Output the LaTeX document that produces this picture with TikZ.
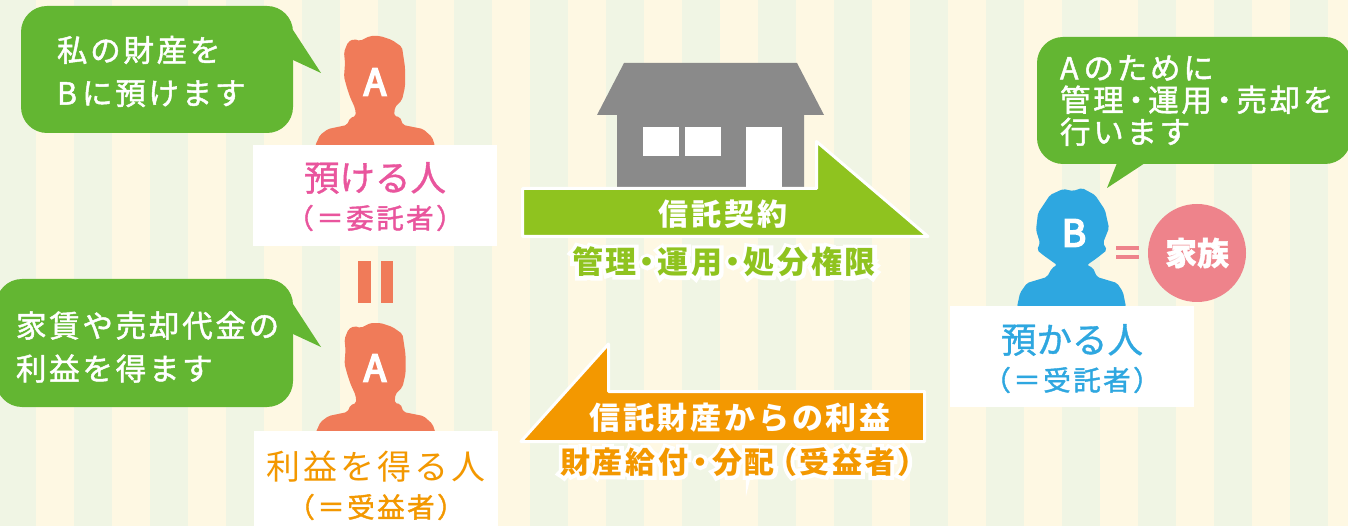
\documentclass[tikz,border=0pt]{standalone}
\usepackage{fontspec}
\usepackage{xcolor}
\usetikzlibrary{positioning}
\newfontfamily\jp[LetterSpace=9]{Noto Sans CJK JP}
\newfontfamily\jpmid[LetterSpace=9,FakeBold=1.5]{Noto Sans CJK JP}
\newfontfamily\jpplain[FakeBold=1]{Noto Sans CJK JP}
\newfontfamily\jpletter[FakeBold=5]{Noto Sans CJK JP}
\newfontfamily\jpglow[LetterSpace=9,BoldFeatures={FakeBold=25}]{Noto Sans CJK JP}
\definecolor{stripegreen}{HTML}{F0F5E4}
\definecolor{stripecream}{HTML}{FEF8E3}
\definecolor{talkgreen}{HTML}{63B632}
\definecolor{mancolor}{HTML}{F07B59}
\definecolor{givercolor}{HTML}{E9559D}
\definecolor{benefitcolor}{HTML}{F39800}
\definecolor{trusteecolor}{HTML}{2EA7E0}
\definecolor{housegray}{HTML}{8A8A8A}
\definecolor{contractgreen}{HTML}{8FC31F}
\definecolor{familyred}{HTML}{EE838B}
\newcommand{\glow}[1]{\rlap{\textcolor{white}{\jpglow\bfseries #1}}#1}
\newcommand{\dotsep}{\kern-5pt・\kern-5pt}
\newcommand{\talkdot}{\kern-3pt・\kern-3pt}
\begin{document}
\begin{tikzpicture}
            [x=1pt, y=-1pt,
            every node/.style={inner sep=0pt, outer sep=0pt},
            talk/.style={fill=talkgreen, rounded corners=26pt},
            talktext/.style={text=white, align=left, font=\jpmid\fontsize{30.5}{43}\selectfont},
            namebox/.style={fill=white, minimum width=244pt},
            bigname/.style={font=\jpplain\fontsize{35.5}{35.5}\selectfont},
            rolename/.style={font=\jpmid\fontsize{27.5}{27.5}\selectfont},
            letter/.style={text=white, font=\jpletter\fontsize{37}{37}\selectfont},
            man/.pic={
                \fill[mancolor, rounded corners=2pt] (315,146) -- (320,135) -- (328,129) -- (347,125) -- (350,118) -- (356,116) -- (355,108) -- (350,97) -- (347,88) -- (344,77) -- (345,63) -- (344,52) -- (348,42) -- (354,39) -- (360,41) -- (370,36) -- (380,36) -- (392,40) -- (402,47) -- (405,67) -- (405,87) -- (402,100) -- (395,107) -- (394,116) -- (400,117) -- (403,125) -- (423,129) -- (432,137) -- (435,146) -- cycle;
            }]

            \clip (0,0) rectangle (1348,526);
            \fill[stripecream] (0,0) rectangle (1348,526);
            \foreach \k in {0,...,17}
                \fill[stripegreen] ({76*\k-2},0) rectangle ++(38,526);

            \node[talk, minimum width=272pt, minimum height=127pt] (talkGiver) at (157,69.5) {};
            \fill[talkgreen] (293,30) -- (321,73) -- (293,60) -- cycle;
            \node[talktext, anchor=west, right=36pt of talkGiver.west, yshift=-2pt] {私の財産を\\B\kern5pt に預けます};

            \node[talk, minimum width=297pt, minimum height=128pt] (talkBenefit) at (144.5,343) {};
            \fill[talkgreen] (293,304) -- (321,347) -- (293,334) -- cycle;
            \node[talktext, anchor=west, right=20pt of talkBenefit.west, yshift=-4pt] {家賃や売却代金の\\利益を得ます};

            \node[talk, minimum width=314pt, minimum height=127pt] (talkTrustee) at (1194,100.5) {};
            \fill[talkgreen] (1117,163) -- (1107,188) -- (1145,163) -- cycle;
            \node[talktext, anchor=west, right=23pt of talkTrustee.west, font=\jpmid\fontsize{30.5}{32}\selectfont] {A\kern5pt のために\\管理\talkdot 運用\talkdot 売却を\\行います};

            \pic at (0,0) {man};
            \node[letter] (letterGiver) at (375,82) {A};
            \pic at (0.5,287) {man};
            \node[letter] (letterBenefit) at (375,368) {A};

            \fill[trusteecolor, rounded corners=2pt] (1017,307) -- (1020,293) -- (1027,283) -- (1047,277) -- (1052,268) -- (1057,265) -- (1043,255) -- (1037,250) -- (1040,243) -- (1036,230) -- (1038,213) -- (1050,195) -- (1063,189) -- (1073,191) -- (1082,188) -- (1095,195) -- (1105,210) -- (1109,228) -- (1103,243) -- (1107,250) -- (1097,258) -- (1087,265) -- (1093,268) -- (1097,277) -- (1117,283) -- (1123,292) -- (1126,307) -- cycle;
            \node[letter] (letterTrustee) at (1074,233) {B};

            \node[namebox, minimum height=101pt] (boxGiver) at (375,195.5) {};
            \node[bigname, text=givercolor] (nameGiver) at (375,178) {預ける人};
            \node[rolename, text=givercolor] (roleGiver) at (375,218) {（＝委託者）};

            \node[namebox, minimum height=96pt] (boxBenefit) at (376,479) {};
            \node[bigname, text=benefitcolor, font=\jp\fontsize{34}{34}\selectfont] (nameBenefit) at (376,467) {利益を得る人};
            \node[rolename, text=benefitcolor] (roleBenefit) at (376,507) {（＝受益者）};

            \node[namebox, minimum height=101pt] (boxTrustee) at (1072,356.5) {};
            \node[bigname, text=trusteecolor] (nameTrustee) at (1072,340) {預かる人};
            \node[rolename, text=trusteecolor] (roleTrustee) at (1072,380) {（＝受託者）};

            \fill[mancolor] (358,261) rectangle (371,303);
            \fill[mancolor] (381,261) rectangle (393,303);

            \fill[familyred] (1116,246) rectangle (1139,250);
            \fill[familyred] (1116,255) rectangle (1139,259);
            \node[circle, fill=familyred, minimum size=98pt, text=white, font=\jpplain\bfseries\fontsize{32}{32}\selectfont] (family) at (1197,253) {家族};

            \fill[housegray] (624,63) -- (797,63) -- (824,115) -- (804,115) -- (804,192) -- (617,192) -- (617,115) -- (597,115) -- cycle;
            \fill[white] (643,127) rectangle (679,156);
            \fill[white] (685,127) rectangle (721,156);
            \fill[white] (746,127) rectangle (782,192);

            \draw[white, line width=3pt, line join=round, fill=contractgreen] (522.5,188.5) -- (816.5,188.5) -- (816.5,141.5) -- (928,236.5) -- (522.5,236.5) -- cycle;
            \node[text=white, font=\jp\bfseries\fontsize{30}{30}\selectfont] (contract) at (723,214) {信託契約};
            \node[text=contractgreen, font=\jp\bfseries\fontsize{31}{31}\selectfont] (powers) at (724,262) {\glow{管理\dotsep 運用\dotsep 処分権限}};

            \draw[white, line width=3pt, line join=round, fill=benefitcolor] (608.5,344) -- (608.5,391.5) -- (924.5,391.5) -- (924.5,441.5) -- (521,441.5) -- cycle;
            \node[text=white, font=\jp\bfseries\fontsize{31}{31}\selectfont] (income) at (740,418) {信託財産からの利益};
            \node[text=benefitcolor, font=\jp\bfseries\fontsize{30}{30}\selectfont] (payout) at (740,462) {\glow{財産給付\kern-3pt・\kern-3pt分配\kern-8pt（受益者）\kern-8pt}};
        \end{tikzpicture}
\end{document}
